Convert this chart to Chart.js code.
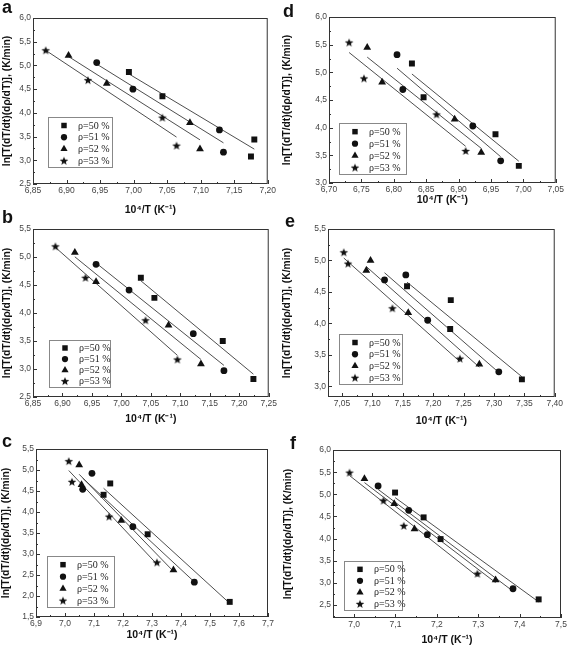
<!DOCTYPE html>
<html>
<head>
<meta charset="utf-8">
<script src="https://cdn.jsdelivr.net/npm/chart.js@4.4.1/dist/chart.umd.min.js"></script>
<style>
  html, body { margin: 0; padding: 0; background: #fff; overflow: hidden; }
  body { width: 567px; height: 648px; position: relative; }
  canvas { position: absolute; }
  .tag { position: absolute; font: bold 18px "Liberation Sans", Arial, sans-serif; line-height: 18px; color: #111; }
</style>
</head>
<body>
<script>
const seriesLabels = ["ρ=50 %", "ρ=51 %", "ρ=52 %", "ρ=53 %"];
const yTitle = "ln[T(dT/dt)(dρ/dT)], (K/min)";
const xTitle = "10⁴/T (K⁻¹)";

// a
const a50 = [[6.993, 4.86], [7.043, 4.35], [7.180, 3.44], [7.175, 3.08]];
const a51 = [[6.945, 5.06], [6.999, 4.50], [7.128, 3.64], [7.134, 3.17]];
const a52 = [[6.903, 5.21], [6.960, 4.62], [7.084, 3.79], [7.099, 3.24]];
const a53 = [[6.869, 5.32], [6.932, 4.69], [7.043, 3.90], [7.064, 3.31]];
const aXTicks = [6.85, 6.90, 6.95, 7.00, 7.05, 7.10, 7.15, 7.20];
const aYTicks = [2.5, 3.0, 3.5, 4.0, 4.5, 5.0, 5.5, 6.0];

// b
const b50 = [[7.033, 4.63], [7.056, 4.27], [7.172, 3.50], [7.224, 2.82]];
const b51 = [[6.957, 4.87], [7.013, 4.41], [7.122, 3.63], [7.174, 2.97]];
const b52 = [[6.921, 5.08], [6.957, 4.56], [7.080, 3.78], [7.135, 3.09]];
const b53 = [[6.888, 5.19], [6.939, 4.63], [7.041, 3.87], [7.095, 3.17]];
const bXTicks = [6.85, 6.90, 6.95, 7.00, 7.05, 7.10, 7.15, 7.20, 7.25];
const bYTicks = [2.5, 3.0, 3.5, 4.0, 4.5, 5.0, 5.5];

// c
const c50 = [[7.156, 4.68], [7.133, 4.41], [7.285, 3.47], [7.568, 1.86]];
const c51 = [[7.093, 4.92], [7.061, 4.54], [7.234, 3.65], [7.446, 2.33]];
const c52 = [[7.049, 5.12], [7.057, 4.65], [7.194, 3.80], [7.374, 2.62]];
const c53 = [[7.013, 5.21], [7.024, 4.72], [7.152, 3.89], [7.317, 2.80]];
const cXTicks = [6.9, 7.0, 7.1, 7.2, 7.3, 7.4, 7.5, 7.6, 7.7];
const cYTicks = [1.5, 2.0, 2.5, 3.0, 3.5, 4.0, 4.5, 5.0, 5.5];

// d
const d50 = [[6.828, 5.16], [6.846, 4.55], [6.957, 3.88], [6.993, 3.31]];
const d51 = [[6.805, 5.32], [6.814, 4.69], [6.922, 4.03], [6.965, 3.40]];
const d52 = [[6.759, 5.45], [6.782, 4.82], [6.894, 4.15], [6.935, 3.55]];
const d53 = [[6.731, 5.54], [6.754, 4.89], [6.866, 4.24], [6.911, 3.58]];
const dXTicks = [6.70, 6.75, 6.80, 6.85, 6.90, 6.95, 7.00, 7.05];
const dYTicks = [3.0, 3.5, 4.0, 4.5, 5.0, 5.5, 6.0];

// e
const e50 = [[7.157, 4.59], [7.229, 4.37], [7.228, 3.91], [7.346, 3.11]];
const e51 = [[7.155, 4.77], [7.120, 4.69], [7.191, 4.05], [7.308, 3.23]];
const e52 = [[7.097, 5.00], [7.090, 4.84], [7.159, 4.17], [7.276, 3.35]];
const e53 = [[7.053, 5.13], [7.060, 4.95], [7.133, 4.24], [7.244, 3.44]];
const eXTicks = [7.05, 7.10, 7.15, 7.20, 7.25, 7.30, 7.35, 7.40];
const eYTicks = [3.0, 3.5, 4.0, 4.5, 5.0, 5.5];

// f
const f50 = [[7.099, 5.04], [7.168, 4.48], [7.209, 3.99], [7.446, 2.63]];
const f51 = [[7.058, 5.19], [7.132, 4.64], [7.177, 4.09], [7.384, 2.87]];
const f52 = [[7.025, 5.35], [7.097, 4.79], [7.146, 4.22], [7.342, 3.07]];
const f53 = [[6.989, 5.49], [7.071, 4.86], [7.120, 4.29], [7.298, 3.21]];
const fXTicks = [7.0, 7.1, 7.2, 7.3, 7.4, 7.5];
const fYTicks = [2.5, 3.0, 3.5, 4.0, 4.5, 5.0, 5.5, 6.0];

// layout of the six panels (plot box = left, top, right, bottom in page px)
const panels = [
  { tag: "a", tagPos: [2, -2], box: [33, 18, 268, 184], titleX: 7, titleDy: 26, xRange: [6.85, 7.20], yRange: [2.5, 6.0],
    xTicks: aXTicks, yTicks: aYTicks, xDec: 2, series: [a50, a51, a52, a53], legend: [15, 99, 64, 50] },
  { tag: "b", tagPos: [2, 208], box: [33, 229, 269, 397], titleX: 7, titleDy: 22, xRange: [6.85, 7.25], yRange: [2.5, 5.5],
    xTicks: bXTicks, yTicks: bYTicks, xDec: 2, series: [b50, b51, b52, b53], legend: [16, 111, 61, 47] },
  { tag: "c", tagPos: [2, 432], box: [36, 449, 268, 617], titleX: 6, titleDy: 18, xRange: [6.9, 7.7], yRange: [1.5, 5.5],
    xTicks: cXTicks, yTicks: cYTicks, xDec: 1, series: [c50, c51, c52, c53], legend: [11, 107, 67, 51] },
  { tag: "d", tagPos: [283, 2], box: [329, 17, 556, 183], titleX: 287, titleDy: 17.5, xRange: [6.70, 7.05], yRange: [3.0, 6.0],
    xTicks: dXTicks, yTicks: dYTicks, xDec: 2, series: [d50, d51, d52, d53], legend: [10, 106, 67, 51] },
  { tag: "e", tagPos: [285, 212], box: [328, 229, 555, 397], titleX: 287, titleDy: 24, xRange: [7.027, 7.40], yRange: [2.83, 5.5],
    xTicks: eXTicks, yTicks: eYTicks, xDec: 2, series: [e50, e51, e52, e53], legend: [11, 105, 63, 50] },
  { tag: "f", tagPos: [290, 434], box: [333, 450, 561, 618], titleX: 288, titleDy: 22, xRange: [6.949, 7.5], yRange: [2.21, 6.0],
    xTicks: fXTicks, yTicks: fYTicks, xDec: 1, series: [f50, f51, f52, f53], legend: [11, 111, 58, 49] },
];

const INK = "#111";
const SANS = '"Liberation Sans", Arial, sans-serif';
const SERIF = '"Liberation Serif", "Times New Roman", serif';

const starCanvas = (() => {
  const c = document.createElement("canvas");
  c.width = 10; c.height = 10;
  const g = c.getContext("2d");
  g.fillStyle = INK;
  g.beginPath();
  for (let i = 0; i < 10; i++) {
    const r = i % 2 ? 1.9 : 4.5;
    const ang = -Math.PI / 2 + i * Math.PI / 5;
    const px = 5 + r * Math.cos(ang), py = 5.4 + r * Math.sin(ang);
    if (i) g.lineTo(px, py); else g.moveTo(px, py);
  }
  g.closePath();
  g.fill();
  return c;
})();

const markers = [
  { pointStyle: "rect", radius: 4.2 },
  { pointStyle: "circle", radius: 3.4 },
  { pointStyle: "triangle", radius: 4.5 },
  { pointStyle: starCanvas, radius: 4.5 },
];

const fmt = (v, dec) => Number(v).toFixed(dec).replace(".", ",");

// least squares line through one series, drawn over its x span
function fitLine(pts) {
  const n = pts.length;
  const mx = pts.reduce((s, p) => s + p[0], 0) / n;
  const my = pts.reduce((s, p) => s + p[1], 0) / n;
  let sxy = 0, sxx = 0;
  pts.forEach(([x, y]) => { sxy += (x - mx) * (y - my); sxx += (x - mx) ** 2; });
  const k = sxy / sxx;
  const xs = pts.map((p) => p[0]);
  const x0 = Math.min(...xs), x1 = Math.max(...xs);
  return [{ x: x0, y: my + k * (x0 - mx) }, { x: x1, y: my + k * (x1 - mx) }];
}

function minorTicks(ticks, min, max) {
  const step = ticks[1] - ticks[0];
  const out = [];
  for (let i = -1; i < ticks.length; i++) {
    const v = (i < 0 ? ticks[0] - step : ticks[i]) + step / 2;
    if (v > min + 1e-9 && v < max - 1e-9) out.push(v);
  }
  return out;
}

const decorations = {
  id: "decorations",
  afterDraw(chart, args, opts) {
    const { ctx, chartArea: { left, top, right, bottom }, scales: { x, y } } = chart;
    ctx.save();
    ctx.strokeStyle = "#333";
    ctx.lineWidth = 1;
    ctx.strokeRect(left + 0.5, top + 0.5, right - left - 1, bottom - top - 1);

    ctx.beginPath();
    const tickX = (v, len) => {
      const px = Math.round(x.getPixelForValue(v)) + 0.5;
      ctx.moveTo(px, bottom); ctx.lineTo(px, bottom - len);
    };
    const tickY = (v, len) => {
      const py = Math.round(y.getPixelForValue(v)) + 0.5;
      ctx.moveTo(left, py); ctx.lineTo(left + len, py);
    };
    opts.xTicks.forEach((v) => tickX(v, 4));
    minorTicks(opts.xTicks, x.min, x.max).forEach((v) => tickX(v, 2));
    opts.yTicks.forEach((v) => tickY(v, 4));
    minorTicks(opts.yTicks, y.min, y.max).forEach((v) => tickY(v, 2));
    ctx.stroke();

    // legend box
    const [lx, ly, lw, lh] = opts.legend;
    const bx = left + lx, by = top + ly;
    ctx.fillStyle = "#fff";
    ctx.fillRect(bx, by, lw, lh);
    ctx.strokeStyle = "#888";
    ctx.strokeRect(bx + 0.5, by + 0.5, lw, lh);
    const rowH = lh * 0.235;
    ctx.font = "10px " + SERIF;
    ctx.textBaseline = "middle";
    seriesLabels.forEach((label, i) => {
      const ry = by + lh * 0.17 + i * rowH;
      ctx.fillStyle = INK;
      Chart.helpers.drawPoint(ctx, { pointStyle: markers[i].pointStyle, radius: markers[i].radius * 0.92, rotation: 0, borderWidth: 0 }, bx + 16, ry);
      ctx.fillStyle = "#222";
      ctx.fillText(label, bx + 30, ry + 0.5);
    });
    ctx.restore();
  },
};

panels.forEach((p) => {
  const [pl, pt, pr, pb] = p.box;
  const canvasLeft = p.titleX - 8;
  const yw = pl - canvasLeft;
  const xh = p.titleDy + 6.3;
  const padTop = 8, padRight = 10;
  const width = pr + padRight - canvasLeft;
  const height = Math.ceil((pb - pt) + padTop + xh + 2);

  const canvas = document.createElement("canvas");
  canvas.width = width;
  canvas.height = height;
  canvas.style.left = canvasLeft + "px";
  canvas.style.top = (pt - padTop) + "px";
  canvas.style.width = width + "px";
  canvas.style.height = height + "px";
  document.body.appendChild(canvas);

  const tag = document.createElement("div");
  tag.className = "tag";
  tag.textContent = p.tag;
  tag.style.left = p.tagPos[0] + "px";
  tag.style.top = p.tagPos[1] + "px";
  document.body.appendChild(tag);

  const datasets = [];
  p.series.forEach((pts, i) => {
    datasets.push({
      label: seriesLabels[i],
      data: pts.map(([x, y]) => ({ x, y })),
      pointStyle: markers[i].pointStyle,
      pointRadius: markers[i].radius,
      backgroundColor: INK,
      borderColor: INK,
      borderWidth: 0,
      showLine: false,
      order: 1,
    });
  });
  p.series.forEach((pts) => {
    datasets.push({
      data: fitLine(pts),
      showLine: true,
      borderColor: "#3a3a3a",
      borderWidth: 0.9,
      pointRadius: 0,
      order: 2,
    });
  });

  new Chart(canvas, {
    type: "scatter",
    data: { datasets },
    plugins: [decorations],
    options: {
      responsive: false,
      animation: false,
      devicePixelRatio: 1,
      layout: { padding: { top: padTop, right: padRight, left: 0, bottom: height - ((pb - pt) + padTop + xh) } },
      plugins: {
        legend: { display: false },
        tooltip: { enabled: false },
        decorations: { xTicks: p.xTicks, yTicks: p.yTicks, legend: p.legend },
      },
      scales: {
        x: {
          type: "linear",
          min: p.xRange[0],
          max: p.xRange[1],
          grid: { display: false, drawTicks: false },
          border: { display: false },
          afterBuildTicks: (axis) => { axis.ticks = p.xTicks.map((v) => ({ value: v })); },
          afterFit: (axis) => { axis.height = xh; },
          ticks: {
            autoSkip: false, maxRotation: 0, padding: 2, color: "#444",
            font: { family: SANS, size: 8.5 },
            callback: (v) => fmt(v, p.xDec),
          },
          title: {
            display: true, text: xTitle, color: INK, padding: 0,
            font: { family: SANS, size: 10.5, weight: "bold" },
          },
        },
        y: {
          type: "linear",
          min: p.yRange[0],
          max: p.yRange[1],
          grid: { display: false, drawTicks: false },
          border: { display: false },
          afterBuildTicks: (axis) => { axis.ticks = p.yTicks.map((v) => ({ value: v })); },
          afterFit: (axis) => { axis.width = yw; },
          ticks: {
            autoSkip: false, padding: 2, color: "#444",
            font: { family: SANS, size: 8.5 },
            callback: (v) => fmt(v, 1),
          },
          title: {
            display: true, text: yTitle, color: INK, padding: { top: 2, bottom: 0 },
            font: { family: SANS, size: 10.3, weight: "bold" },
          },
        },
      },
    },
  });
});
</script>
</body>
</html>
